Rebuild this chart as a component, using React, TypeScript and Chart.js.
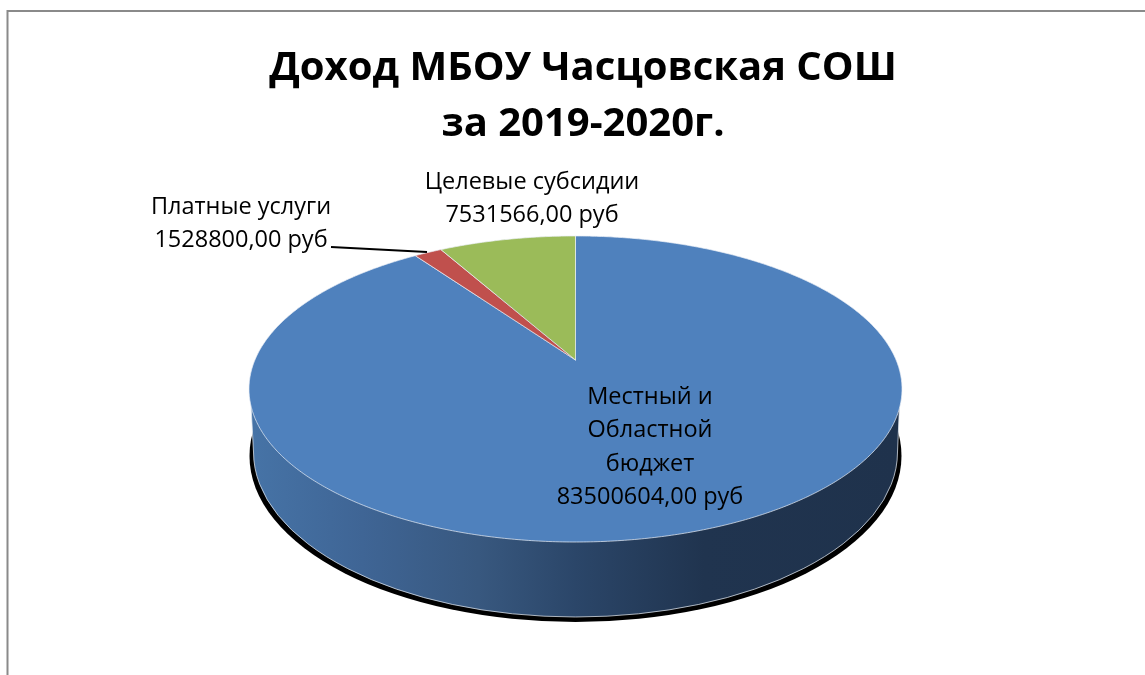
import React, { useEffect, useRef } from "react";
import { Chart, registerables } from "chart.js";

Chart.register(...registerables);

const titleLines = ["Доход МБОУ Часцовская СОШ", "за 2019-2020г."];
const categories = ["Местный и Областной бюджет", "Платные услуги", "Целевые субсидии"];
const categoryLines = [["Местный и", "Областной", "бюджет"], ["Платные услуги"], ["Целевые субсидии"]];
const values = [83500604, 1528800, 7531566];
const colors = ["#4f81bd", "#c0504d", "#9bbb59"];
const TEXT_FONT = '"Open Sans", sans-serif';

// projection of the unit disc onto the tilted top face
const CX = 575.5, APEX_Y = 360, K = -0.1895, A = 79.3, D = 320.6;
const project = (u: number, v: number): [number, number] => {
  const w = 1 + K * v;
  return [CX + (D * u) / w, (A * v + APEX_Y) / w];
};

const labelPlaces = [
  { x: 650, y: [397, 430, 464, 497], size: 23.5 },
  { x: 241, y: [207, 240], size: 23.5 },
  { x: 532, y: [182, 215], size: 23.5 },
];

const pie3d = {
  id: "pie3d",
  beforeDraw(chart: any) {
    const c = chart.ctx;
    c.save();
    c.strokeStyle = "#8a8a8a";
    c.lineWidth = 2;
    c.beginPath();
    c.moveTo(7.5, 700);
    c.lineTo(7.5, 11);
    c.lineTo(1200, 11);
    c.stroke();
    c.restore();
  },
  beforeDatasetsDraw(chart: any) {
    const c = chart.ctx;
    c.save();
    // shadow
    c.fillStyle = "#000";
    c.beginPath();
    c.ellipse(575.5, 456, 326, 166, 0, 0, Math.PI * 2);
    c.fill();
    // wall
    const g = c.createLinearGradient(253, 0, 897, 0);
    g.addColorStop(0, "#4673a6");
    g.addColorStop(0.17, "#3f6595");
    g.addColorStop(0.35, "#38587f");
    g.addColorStop(0.5, "#2b4669");
    g.addColorStop(0.7, "#20344f");
    g.addColorStop(1, "#1f324c");
    c.fillStyle = g;
    c.strokeStyle = "rgba(225,232,240,0.75)";
    c.lineWidth = 1;
    c.beginPath();
    c.moveTo(251, 405);
    c.lineTo(253.5, 452);
    c.ellipse(575.5, 452, 322, 165, 0, Math.PI, 0, true);
    c.lineTo(899.5, 405);
    c.closePath();
    c.fill();
    c.stroke();
    c.restore();
  },
  beforeDatasetDraw(chart: any, args: any) {
    const c = chart.ctx;
    const meta = chart.getDatasetMeta(args.index);
    c.save();
    meta.data.forEach((arc: any, i: number) => {
      const { startAngle, endAngle } = arc.getProps(["startAngle", "endAngle"], true);
      c.beginPath();
      c.moveTo(...project(0, 0));
      const n = Math.max(2, Math.ceil(((endAngle - startAngle) * 180) / Math.PI) * 2);
      for (let k = 0; k <= n; k++) {
        const a = startAngle + ((endAngle - startAngle) * k) / n;
        c.lineTo(...project(Math.cos(a), Math.sin(a)));
      }
      c.closePath();
      c.fillStyle = colors[i];
      c.fill();
      c.strokeStyle = "rgba(235,240,246,0.7)";
      c.lineWidth = 1;
      c.stroke();
    });
    c.restore();
    return false;
  },
  afterDraw(chart: any) {
    const c = chart.ctx;
    c.save();
    // leader line
    c.strokeStyle = "#000";
    c.lineWidth = 2;
    c.beginPath();
    c.moveTo(331, 247);
    c.lineTo(427, 252);
    c.stroke();
    c.fillStyle = "#000";
    c.textAlign = "center";
    c.textBaseline = "middle";
    values.forEach((v, i) => {
      const p = labelPlaces[i];
      c.font = `${p.size}px ${TEXT_FONT}`;
      const lines = [...categoryLines[i], v.toFixed(2).replace(".", ",") + " руб"];
      lines.forEach((t, j) => c.fillText(t, p.x, p.y[j]));
    });
    c.restore();
  },
};

export default function App() {
  const ref = useRef<HTMLCanvasElement | null>(null);
  useEffect(() => {
    const chart = new Chart(ref.current as HTMLCanvasElement, {
      type: "pie",
      data: {
        labels: categories,
        datasets: [{ data: values, backgroundColor: colors, borderWidth: 0 }],
      },
      options: {
        responsive: false,
        devicePixelRatio: 1,
        animation: false,
        layout: { padding: { left: 21, top: 41 } },
        plugins: {
          legend: { display: false },
          tooltip: { enabled: false },
          title: {
            display: true,
            text: titleLines,
            color: "#000",
            font: { family: TEXT_FONT, size: 40, weight: "bold", lineHeight: 1.4 },
            padding: 0,
          },
        },
      },
      plugins: [pie3d],
    } as any);
    return () => chart.destroy();
  }, []);
  return (
    <canvas
      ref={ref}
      width={1145}
      height={675}
      style={{ position: "fixed", left: 0, top: 0, display: "block", background: "#fff" }}
    />
  );
}
